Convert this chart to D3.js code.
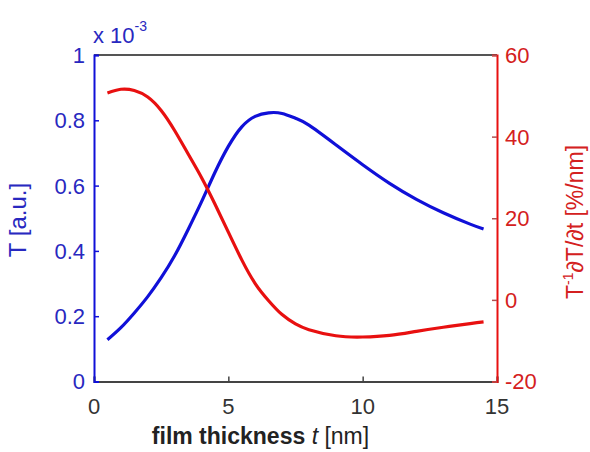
<!DOCTYPE html>
<html>
<head>
<meta charset="utf-8">
<script src="https://cdn.jsdelivr.net/npm/d3@7"></script>
<style>
  body { margin: 0; background: #fff; }
  svg { display: block; font-family: "Liberation Sans", Arial, sans-serif; }
</style>
</head>
<body>
<div id="chart"></div>
<script>
// film thickness t [nm]
const thickness = [0.5, 1, 1.5, 2, 2.5, 3, 3.5, 4, 4.5, 5, 5.5, 6, 6.5, 7, 7.5, 8, 9, 10, 11, 12, 13, 14, 14.5];
// T [a.u.] (x 1e-3)
const transmission = [0.128, 0.165, 0.21, 0.26, 0.318, 0.385, 0.465, 0.55, 0.64, 0.72, 0.78, 0.812, 0.823, 0.821, 0.806, 0.785, 0.725, 0.664, 0.607, 0.558, 0.517, 0.482, 0.467];
// T^-1 dT/dt [%/nm]
const relDeriv = [50.7, 51.6, 51.3, 49.7, 46.4, 41.5, 35.8, 30, 23.5, 16.6, 9.8, 4, -0.2, -3.6, -5.9, -7.3, -8.8, -9.1, -8.7, -7.7, -6.7, -5.8, -5.4];

const xTicks = [0, 5, 10, 15];
const leftTicks = [0, 0.2, 0.4, 0.6, 0.8, 1];
const rightTicks = [-20, 0, 20, 40, 60];

const W = 590, H = 452;
const plot = { left: 94, right: 497, top: 55, bottom: 381.5 };
const blue = "#1010d8", blueText = "#2828c0";
const red = "#e81010", redText = "#d42020";
const fs = 22;

const svg = d3.select("#chart").append("svg")
    .attr("width", W).attr("height", H);

const x = d3.scaleLinear().domain([0, 15]).range([plot.left, plot.right]);
const yL = d3.scaleLinear().domain([0, 1]).range([plot.bottom, plot.top]);
const yR = d3.scaleLinear().domain([-20, 60]).range([plot.bottom, plot.top]);

// top border
svg.append("line")
    .attr("x1", plot.left).attr("x2", plot.right)
    .attr("y1", plot.top).attr("y2", plot.top)
    .attr("stroke", "#555").attr("stroke-width", 2);

// bottom axis
const xAxis = svg.append("g")
    .attr("transform", `translate(0,${plot.bottom})`)
    .call(d3.axisTop(x).tickValues(xTicks).tickSize(5).tickFormat(""));
xAxis.select(".domain").attr("stroke", "#444").attr("stroke-width", 2);
xAxis.selectAll(".tick line").attr("stroke", "#444").attr("stroke-width", 1.5);
svg.append("g").selectAll("text")
    .data(xTicks).enter().append("text")
    .attr("x", d => x(d)).attr("y", plot.bottom + 32)
    .attr("text-anchor", "middle")
    .attr("font-size", fs).attr("fill", "#333")
    .text(d => d);

// left axis (blue)
const lAxis = svg.append("g")
    .attr("transform", `translate(${plot.left},0)`)
    .call(d3.axisRight(yL).tickValues(leftTicks).tickSize(5).tickFormat(""));
lAxis.select(".domain").attr("stroke", blue).attr("stroke-width", 2);
lAxis.selectAll(".tick line").attr("stroke", blue).attr("stroke-width", 1.5);
svg.append("g").selectAll("text")
    .data(leftTicks).enter().append("text")
    .attr("x", plot.left - 9).attr("y", d => yL(d))
    .attr("dy", "0.36em")
    .attr("text-anchor", "end")
    .attr("font-size", fs).attr("fill", blueText)
    .text(d => d);

// x 10^-3
const mult = svg.append("text")
    .attr("x", plot.left - 1).attr("y", 43)
    .attr("font-size", 22).attr("fill", blueText);
mult.append("tspan").text("x 10");
mult.append("tspan").attr("dy", -12).attr("font-size", 14).text("-3");

// right axis (red)
const rAxis = svg.append("g")
    .attr("transform", `translate(${plot.right},0)`)
    .call(d3.axisLeft(yR).tickValues(rightTicks).tickSize(5).tickFormat(""));
rAxis.select(".domain").attr("stroke", red).attr("stroke-width", 2);
rAxis.selectAll(".tick line").attr("stroke", "#b05050").attr("stroke-width", 1.5);
svg.append("g").selectAll("text")
    .data(rightTicks).enter().append("text")
    .attr("x", plot.right + 8).attr("y", d => yR(d))
    .attr("dy", "0.36em")
    .attr("font-size", fs).attr("fill", redText)
    .text(d => d);

// curves
const pts = (ys) => thickness.map((t, i) => [t, ys[i]]);
svg.append("path")
    .datum(pts(transmission))
    .attr("fill", "none").attr("stroke", blue).attr("stroke-width", 3.2)
    .attr("d", d3.line().x(d => x(d[0])).y(d => yL(d[1])).curve(d3.curveNatural));
svg.append("path")
    .datum(pts(relDeriv))
    .attr("fill", "none").attr("stroke", red).attr("stroke-width", 3.2)
    .attr("d", d3.line().x(d => x(d[0])).y(d => yR(d[1])).curve(d3.curveNatural));

// x label
const xl = svg.append("text")
    .attr("x", (plot.left + plot.right) / 2 - 35).attr("y", 444)
    .attr("text-anchor", "middle")
    .attr("font-size", 23).attr("fill", "#222");
xl.append("tspan").attr("font-weight", "bold").text("film thickness ");
xl.append("tspan").attr("font-style", "italic").text("t");
xl.append("tspan").text(" [nm]");

// left y label
svg.append("text")
    .attr("transform", "translate(26,220) rotate(-90)")
    .attr("text-anchor", "middle")
    .attr("font-size", 24).attr("fill", blueText)
    .text("T [a.u.]");

// right y label
const rl = svg.append("text")
    .attr("transform", "translate(583,222) rotate(-90)")
    .attr("text-anchor", "middle")
    .attr("font-size", 23).attr("fill", redText);
rl.append("tspan").text("T");
rl.append("tspan").attr("dy", -10).attr("font-size", 14).text("-1");
rl.append("tspan").attr("dy", 10).text("\u2202T/\u2202t [%/nm]");
</script>
</body>
</html>
